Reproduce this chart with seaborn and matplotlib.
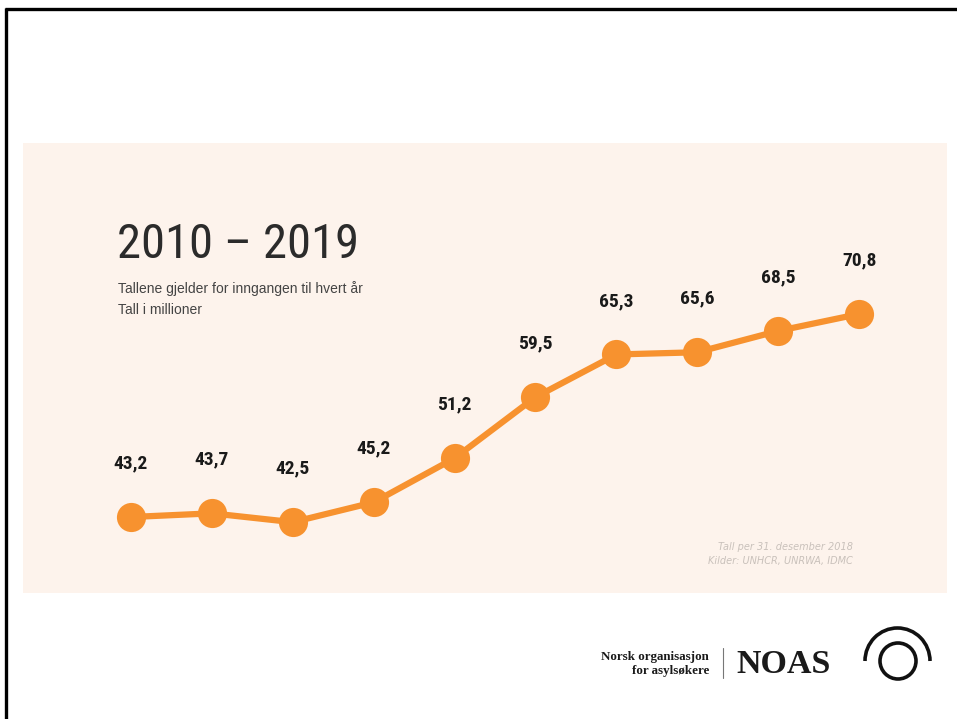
import pandas as pd
import seaborn as sns
import matplotlib.pyplot as plt
from matplotlib.patches import Rectangle, Circle, Arc

# data
years = [2010, 2011, 2012, 2013, 2014, 2015, 2016, 2017, 2018, 2019]
values = [43.2, 43.7, 42.5, 45.2, 51.2, 59.5, 65.3, 65.6, 68.5, 70.8]
labels = ["43,2", "43,7", "42,5", "45,2", "51,2", "59,5", "65,3", "65,6", "68,5", "70,8"]

title = "2010 – 2019"
subtitle = ["Tallene gjelder for inngangen til hvert år", "Tall i millioner"]
notes = ["Tall per 31. desember 2018", "Kilder: UNHCR, UNRWA, IDMC"]

ORANGE = "#F7922F"
PANEL = "#FDF3EC"
NARROW = ["Liberation Sans Narrow", "Roboto Condensed", "Roboto"]

W, H = 957, 719
sns.set_style("white")
fig = plt.figure(figsize=(W / 100, H / 100), dpi=100)

# background layer in pixel coordinates
bg = fig.add_axes([0, 0, 1, 1], zorder=0)
bg.set_xlim(0, W)
bg.set_ylim(H, 0)
bg.axis("off")
bg.add_patch(Rectangle((23, 143), 924, 450, color=PANEL, lw=0))
bg.plot([5, W], [9, 9], color="black", lw=2.4, solid_capstyle="butt")
bg.plot([6, 6], [8, H], color="black", lw=2.4, solid_capstyle="butt")

# title block
bg.text(117, 258, title, fontsize=35, color="#2b2b2b", family=NARROW, va="baseline")
bg.text(118, 293, subtitle[0], fontsize=10, color="#444444", family="Liberation Sans", va="baseline")
bg.text(118, 314, subtitle[1], fontsize=10, color="#444444", family="Liberation Sans", va="baseline")

# footnotes
bg.text(853, 550, notes[0], fontsize=7, color="#c9c1bb", style="italic", ha="right", va="baseline")
bg.text(853, 564, notes[1], fontsize=7, color="#c9c1bb", style="italic", ha="right", va="baseline")

# logo
bg.text(709, 660, "Norsk organisasjon", fontsize=9.4, family="Liberation Serif", weight="bold",
        ha="right", va="baseline", color="#1a1a1a")
bg.text(709, 674, "for asylsøkere", fontsize=9.4, family="Liberation Serif", weight="bold",
        ha="right", va="baseline", color="#1a1a1a")
bg.plot([723, 723], [648, 678], color="#777777", lw=0.8)
bg.text(736, 673, "NOAS", fontsize=24.5, family="Liberation Serif", weight="bold",
        ha="left", va="baseline", color="#1a1a1a")
bg.add_patch(Circle((898, 661), 18, fill=False, ec="#111111", lw=2.6))
bg.add_patch(Arc((897.5, 661), 65, 66, theta1=180, theta2=360, ec="#111111", lw=2.6))

# chart layer
ax = fig.add_axes([23 / W, 1 - 593 / H, 924 / W, 450 / H], zorder=1)
ax.patch.set_alpha(0)
df = pd.DataFrame({"x": range(len(years)), "value": values})
sns.lineplot(data=df, x="x", y="value", ax=ax, color=ORANGE, linewidth=4.5,
             marker="o", markersize=21, markeredgewidth=0, markerfacecolor=ORANGE)
for i, (v, lab) in enumerate(zip(values, labels)):
    ax.annotate(lab, (i, v), xytext=(0, 32), textcoords="offset points", ha="center",
                va="bottom", fontsize=14, weight="bold", family=NARROW, color="#1a1a1a")

ax.set_xlim(-1.335, 10.087)
ax.set_ylim(32.87, 94.05)
ax.axis("off")

fig.savefig("out.png", dpi=100)
